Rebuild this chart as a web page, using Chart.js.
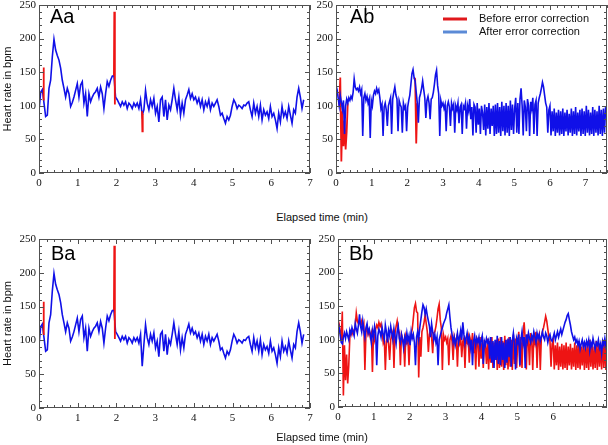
<!DOCTYPE html>
<html>
<head>
<meta charset="utf-8">
<script src="https://cdn.jsdelivr.net/npm/chart.js@4.4.1/dist/chart.umd.min.js"></script>
<style>
  body { margin: 0; background: #fff; }
  #wrap { position: relative; width: 608px; height: 445px; overflow: hidden; background: #fff; }
  #wrap canvas { position: absolute; }
  .xtitle { position: absolute; left: 222px; width: 200px; line-height: 14px; text-align: center;
            font: 11px "Liberation Sans", Arial, sans-serif; color: #111; }
</style>
</head>
<body>
<div id="wrap">
  <canvas id="chartAa" width="316" height="200" style="left:0;top:0"></canvas>
  <canvas id="chartAb" width="298" height="200" style="left:310px;top:0"></canvas>
  <div class="xtitle" style="top:211px">Elapsed time (min)</div>
  <canvas id="chartBa" width="316" height="215" style="left:0;top:220px"></canvas>
  <canvas id="chartBb" width="298" height="215" style="left:310px;top:220px"></canvas>
  <div class="xtitle" style="top:431px">Elapsed time (min)</div>
</div>
<script>
// --- data (heart rate in bpm) ---

// sampling interval of the read-off traces, in minutes
const aStep = 0.043;
const abStep = 0.03;
const bbStep = 0.03;

// Aa / Ba: corrected trace
const aAfter = [
  93, 120, 124, 104, 84, 86, 126, 138, 173, 199,
  183, 175, 168, 156, 138, 126, 113, 126, 118, 99,
  105, 113, 123, 133, 113, 131, 136, 104, 118, 84,
  118, 106, 113, 118, 121, 126, 113, 128, 118, 96,
  118, 136, 129, 138, 144, 145, 113, 109, 104, 99,
  106, 101, 106, 96, 104, 101, 96, 104, 99, 104,
  96, 109, 86, 94, 123, 104, 94, 109, 99, 111,
  89, 99, 76, 109, 113, 84, 109, 79, 101, 94,
  109, 126, 109, 94, 113, 86, 104, 89, 109, 116,
  124, 111, 118, 109, 113, 104, 111, 99, 109, 94,
  106, 99, 109, 94, 104, 99, 104, 109, 99, 86,
  89, 81, 74, 84, 79, 86, 99, 109, 104, 96,
  101, 99, 96, 101, 100, 104, 106, 94, 84, 104,
  89, 99, 84, 101, 79, 94, 86, 91, 81, 99,
  84, 89, 79, 66, 89, 76, 99, 84, 91, 81,
  99, 86, 74, 94, 89, 113, 126, 113, 96, 109
];
// Aa: uncorrected beats (only where they differ)
const aRedT = [0.115, 0.12, 0.125, 0.125, 1.935, 1.945, 1.96, 1.96, 2.66, 2.67, 2.68];
const aRedV = [118, 157, 108, null, 145, 240, 102, null, 92, 62, 88];
// Ba: the 2.67 min drop stays in the corrected trace
const baDipIndex = 62;
const baDipValue = 62;
const baRedT = [0.115, 0.12, 0.125, 0.125, 1.935, 1.945, 1.96];
const baRedV = [118, 157, 108, null, 145, 240, 102];

// Ab: corrected trace
const abAfter = [
  130, 124, 112, 100, 115, 105, 95, 108, 58, 100,
  110, 104, 112, 108, 114, 110, 120, 140, 128, 124,
  126, 122, 128, 118, 124, 55, 112, 118, 108, 114,
  104, 110, 52, 108, 100, 116, 122, 118, 126, 120,
  124, 112, 96, 102, 55, 98, 104, 94, 70, 100,
  106, 112, 58, 110, 120, 128, 116, 110, 62, 108,
  102, 98, 60, 104, 96, 100, 62, 98, 108, 116,
  132, 148, 154, 142, 136, 120, 104, 75, 112, 118,
  126, 137, 124, 112, 82, 108, 114, 104, 80, 110,
  112, 120, 132, 146, 153, 130, 118, 55, 108, 100,
  104, 96, 102, 62, 100, 106, 98, 70, 104, 96,
  102, 60, 100, 94, 104, 74, 98, 102, 58, 100,
  96, 104, 66, 100, 92, 110, 80, 98, 56, 102,
  98, 60, 104, 72, 96, 58, 100, 90, 64, 102,
  56, 98, 66, 104, 58, 96, 70, 100, 55, 102,
  58, 104, 60, 98, 55, 106, 62, 100, 56, 104,
  60, 100, 55, 108, 64, 102, 58, 96, 112, 60,
  104, 58, 110, 126, 100, 56, 108, 98, 62, 110,
  100, 55, 106, 96, 112, 58, 102, 108, 55, 104,
  112, 118, 126, 135, 128, 116, 104, 98, 60, 94,
  100, 56, 92, 62, 96, 55, 90, 60, 94, 56,
  92, 58, 96, 55, 90, 62, 94, 56, 88, 60,
  96, 55, 92, 58, 98, 56, 90, 62, 94, 55,
  96, 58, 92, 55, 100, 60, 94, 56, 90, 58,
  98, 55, 94, 60, 92, 56, 100, 58, 94, 55,
  96, 60, 98
];
// Ab: uncorrected beats (only where they differ); same recording is the red trace in Bb
const abRedT = [0.09, 0.12, 0.15, 0.18, 0.21, 0.24, 0.27, 0.30, 0.33, 0.33, 2.19, 2.22, 2.25, 2.28];
const abRedV = [100, 142, 17, 92, 40, 78, 35, 62, 104, null, 142, 140, 44, 104];

// Bb: corrected trace
const bbAfter = [
  126, 120, 108, 96, 94, 104, 110, 102, 112, 106,
  100, 114, 108, 118, 112, 106, 124, 116, 110, 122,
  138, 120, 112, 128, 114, 104, 118, 124, 110, 116,
  108, 96, 114, 104, 120, 110, 62, 106, 116, 112,
  104, 118, 108, 100, 122, 112, 96, 114, 106, 120,
  110, 100, 116, 104, 94, 112, 120, 102, 96, 108,
  100, 88, 104, 96, 110, 98, 106, 92, 112, 102,
  108, 96, 62, 104, 112, 100, 118, 130, 142, 152,
  148, 138, 146, 136, 128, 120, 104, 124, 112, 100,
  108, 96, 104, 62, 100, 106, 112, 118, 124, 128,
  132, 140, 146, 152, 134, 118, 108, 96, 104, 92,
  100, 110, 96, 104, 114, 100, 126, 108, 94, 102,
  110, 96, 104, 88, 100, 62, 98, 106, 92, 102,
  96, 104, 90, 100, 106, 64, 98, 92, 102, 96,
  100, 72, 104, 66, 98, 58, 100, 70, 106, 64,
  98, 62, 104, 70, 96, 58, 100, 66, 102, 74,
  104, 60, 98, 110, 94, 56, 102, 96, 108, 62,
  100, 112, 94, 104, 58, 108, 98, 110, 102, 96,
  106, 100, 112, 104, 96, 110, 102, 108, 98, 104,
  112, 104, 100, 110, 106, 96, 104, 108, 100, 98,
  104, 110, 100, 106, 112, 104, 110, 116, 108, 114,
  120, 126, 130, 136, 139, 130, 122, 112, 106, 100,
  104, 96, 100, 92, 98, 86, 94, 100, 90, 96,
  88, 98, 92, 100, 84, 96, 90, 102, 94, 86,
  96, 92, 100, 88, 94, 80, 98, 92, 102, 90,
  96, 88
];

// tick labels
const yTicks = [0, 50, 100, 150, 200, 250];
const aXTicks = [0, 1, 2, 3, 4, 5, 6, 7];
const abXTicks = [0, 1, 2, 3, 4, 5, 6, 7];
const bbXTicks = [0, 1, 2, 3, 4, 5, 6];

const legendItems = ['Before error correction', 'After error correction'];

// --- helpers ---
const BLUE = '#1010e8';
const RED = '#ee1414';

function series(step, values) {
  return values.map((v, i) => ({ x: +(i * step).toFixed(4), y: v }));
}
function pairs(ts, vs) {
  return ts.map((t, i) => ({ x: t, y: vs[i] }));
}
// full uncorrected trace = corrected trace with the bad beats put back
function withArtifacts(values, step, ts, vs) {
  const out = values.slice();
  ts.forEach((t, i) => { if (vs[i] !== null) out[Math.round(t / step)] = vs[i]; });
  return out;
}

const baAfter = aAfter.map((v, i) => (i === baDipIndex ? baDipValue : v));
const abBefore = withArtifacts(abAfter, abStep, abRedT, abRedV);

// frame with inward ticks on all four sides (Mathematica style)
const frameTicks = {
  id: 'frameTicks',
  afterDatasetsDraw(chart) {
    const { ctx, chartArea: a, scales: { x, y } } = chart;
    ctx.save();
    ctx.strokeStyle = '#505050';
    ctx.lineWidth = 1;
    ctx.strokeRect(a.left + 0.5, a.top + 0.5, a.right - a.left - 1, a.bottom - a.top - 1);
    ctx.beginPath();
    for (let k = 0; k * 10 <= 250; k++) {
      const py = Math.round(y.getPixelForValue(k * 10)) + 0.5;
      const len = k % 5 === 0 ? 4 : 2;
      ctx.moveTo(a.left, py); ctx.lineTo(a.left + len + 1, py);
      ctx.moveTo(a.right, py); ctx.lineTo(a.right - len - 1, py);
    }
    for (let k = 0; k * 0.2 <= x.max + 1e-9; k++) {
      const px = Math.round(x.getPixelForValue(k * 0.2)) + 0.5;
      const len = k % 5 === 0 ? 4 : 2;
      ctx.moveTo(px, a.bottom); ctx.lineTo(px, a.bottom - len - 1);
      ctx.moveTo(px, a.top); ctx.lineTo(px, a.top + len + 1);
    }
    ctx.stroke();
    ctx.restore();
  }
};

// "Aa", "Ab" ... inside the plot area
const panelLabel = {
  id: 'panelLabel',
  afterDraw(chart, args, o) {
    if (!o.text) return;
    const { ctx, chartArea: a } = chart;
    ctx.save();
    ctx.font = '20px "Liberation Sans", Arial, sans-serif';
    ctx.fillStyle = '#000';
    ctx.textBaseline = 'alphabetic';
    ctx.fillText(o.text, a.left + o.dx, a.top + o.dy);
    ctx.restore();
  }
};

// small line legend (only in Ab)
const lineLegend = {
  id: 'lineLegend',
  afterDraw(chart, args, o) {
    if (!o.display) return;
    const { ctx, chartArea: a } = chart;
    ctx.save();
    ctx.font = '11px "Liberation Sans", Arial, sans-serif';
    ctx.textBaseline = 'middle';
    o.items.forEach((it, k) => {
      const y = a.top + o.top + k * o.gap;
      ctx.strokeStyle = it.color;
      ctx.lineWidth = 3;
      ctx.beginPath();
      ctx.moveTo(a.left + o.x0, y);
      ctx.lineTo(a.left + o.x1, y);
      ctx.stroke();
      ctx.fillStyle = '#111';
      ctx.fillText(it.label, a.left + o.textX, y);
    });
    ctx.restore();
  }
};

function panel(id, cfg) {
  const tickFont = { family: '"Liberation Serif", "Times New Roman", serif', size: 11 };
  return new Chart(document.getElementById(id), {
    type: 'line',
    data: { datasets: cfg.datasets },
    options: {
      responsive: false,
      animation: false,
      devicePixelRatio: 1,
      events: [],
      layout: { padding: cfg.padding },
      elements: { point: { radius: 0 }, line: { tension: 0, borderWidth: 1.6 } },
      plugins: {
        legend: { display: false },
        tooltip: { enabled: false },
        panelLabel: cfg.label,
        lineLegend: cfg.legend || { display: false }
      },
      scales: {
        x: {
          type: 'linear',
          min: 0,
          max: cfg.xMax,
          grid: { display: false, drawTicks: false },
          border: { display: false },
          afterBuildTicks: s => { s.ticks = cfg.xTicks.map(v => ({ value: v })); },
          afterFit: s => { s.height = cfg.xHeight; s.paddingLeft = 0; s.paddingRight = 0; },
          ticks: { font: tickFont, color: '#111', padding: 4, maxRotation: 0, autoSkip: false,
                   callback: v => String(v) }
        },
        y: {
          type: 'linear',
          min: 0,
          max: 250,
          grid: { display: false, drawTicks: false },
          border: { display: false },
          afterBuildTicks: s => { s.ticks = yTicks.map(v => ({ value: v })); },
          afterFit: s => { s.width = cfg.yWidth; s.paddingTop = 0; s.paddingBottom = 0; },
          ticks: { font: tickFont, color: '#111', padding: 3, autoSkip: false,
                   callback: v => String(v) },
          title: {
            display: !!cfg.yTitle,
            text: 'Heart rate in bpm',
            color: '#111',
            font: { family: '"Liberation Sans", Arial, sans-serif', size: 11 },
            padding: { top: 1, bottom: 0 }
          }
        }
      }
    },
    plugins: [frameTicks, panelLabel, lineLegend]
  });
}

// Aa
panel('chartAa', {
  padding: { top: 5, right: 6, left: 0, bottom: 0 },
  yWidth: 39, xHeight: 27, xMax: 7, xTicks: aXTicks, yTitle: true,
  label: { text: 'Aa', dx: 11, dy: 18 },
  datasets: [
    { label: 'Before error correction', data: pairs(aRedT, aRedV), borderColor: RED, borderWidth: 1.8, order: 0 },
    { label: 'After error correction', data: series(aStep, aAfter), borderColor: BLUE, order: 1 }
  ]
});

// Ab
panel('chartAb', {
  padding: { top: 5, right: 1, left: 0, bottom: 0 },
  yWidth: 26, xHeight: 27, xMax: 7.6, xTicks: abXTicks, yTitle: false,
  label: { text: 'Ab', dx: 14, dy: 18 },
  legend: {
    display: true, top: 14, gap: 13, x0: 107, x1: 131, textX: 143,
    items: [{ label: legendItems[0], color: '#e0181c' }, { label: legendItems[1], color: '#5b8ad6' }]
  },
  datasets: [
    { label: 'After error correction', data: series(abStep, abAfter), borderColor: BLUE, order: 0 },
    { label: 'Before error correction', data: pairs(abRedT, abRedV), borderColor: RED, borderWidth: 1.8, order: 1 }
  ]
});

// Ba
panel('chartBa', {
  padding: { top: 19, right: 6, left: 0, bottom: 0 },
  yWidth: 39, xHeight: 27, xMax: 7, xTicks: aXTicks, yTitle: true,
  label: { text: 'Ba', dx: 12, dy: 21 },
  datasets: [
    { label: 'Before error correction', data: pairs(baRedT, baRedV), borderColor: RED, borderWidth: 1.8, order: 0 },
    { label: 'After error correction', data: series(aStep, baAfter), borderColor: BLUE, order: 1 }
  ]
});

// Bb
panel('chartBb', {
  padding: { top: 19, right: 1, left: 0, bottom: 0 },
  yWidth: 28, xHeight: 28, xMax: 7.5, xTicks: bbXTicks, yTitle: false,
  label: { text: 'Bb', dx: 11, dy: 21 },
  datasets: [
    { label: 'After error correction', data: series(bbStep, bbAfter), borderColor: BLUE, order: 0 },
    { label: 'Before error correction', data: series(abStep, abBefore), borderColor: RED, order: 1 }
  ]
});
</script>
</body>
</html>
